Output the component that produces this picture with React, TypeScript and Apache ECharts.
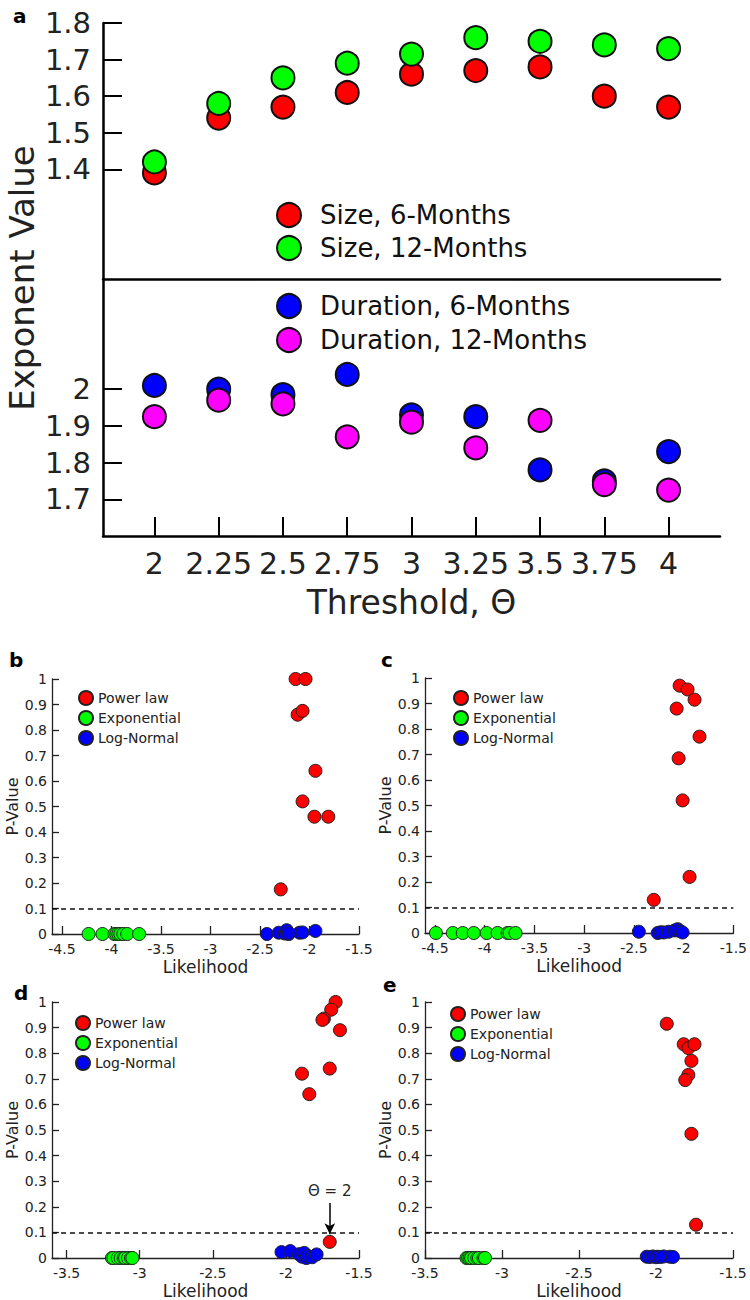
import React, { useEffect, useRef } from 'react';
import * as echarts from 'echarts';

// ---------- Panel a data ----------
const thresholds = [2, 2.25, 2.5, 2.75, 3, 3.25, 3.5, 3.75, 4];
const size6 = [1.39, 1.54, 1.57, 1.61, 1.66, 1.67, 1.68, 1.6, 1.57];
const size12 = [1.42, 1.58, 1.65, 1.69, 1.715, 1.76, 1.75, 1.74, 1.73];
const dur6 = [2.01, 2.0, 1.985, 2.04, 1.93, 1.925, 1.78, 1.75, 1.83];
const dur12 = [1.925, 1.97, 1.96, 1.87, 1.91, 1.84, 1.915, 1.74, 1.725];
const sizeTicks = [1.4, 1.5, 1.6, 1.7, 1.8];
const durTicks = [1.7, 1.8, 1.9, 2];

// ---------- Panel b ----------
const bPowX = [-2.14, -2.04, -2.12, -2.07, -1.94, -2.07, -1.95, -1.81, -2.29];
const bPowP = [1.0, 1.0, 0.86, 0.875, 0.64, 0.52, 0.46, 0.46, 0.175];
const bExpX = [-4.23, -4.09, -3.97, -3.95, -3.93, -3.91, -3.88, -3.84, -3.72];
const bExpP = [0, 0, 0, 0, 0, 0, 0, 0, 0];
const bLogX = [-2.43, -2.31, -2.25, -2.23, -2.21, -2.21, -2.1, -2.07, -1.94];
const bLogP = [0, 0.005, 0.002, 0.015, 0, 0.004, 0.005, 0.006, 0.012];
const bTicks = [-4.5, -4, -3.5, -3, -2.5, -2, -1.5];

// ---------- Panel c ----------
const cPowX = [-2.04, -1.96, -1.89, -2.07, -1.84, -2.05, -2.01, -1.94, -2.3];
const cPowP = [0.97, 0.955, 0.915, 0.88, 0.77, 0.685, 0.52, 0.22, 0.13];
const cExpX = [-4.49, -4.32, -4.22, -4.11, -3.98, -3.87, -3.77, -3.75, -3.69];
const cExpP = [0, 0, 0, 0, 0, 0, 0, 0, 0];
const cLogX = [-2.45, -2.26, -2.23, -2.2, -2.15, -2.09, -2.06, -2.04, -2.01];
const cLogP = [0.005, 0, 0.003, 0.002, 0.005, 0.01, 0.015, 0.008, 0.002];
const cTicks = [-4.5, -4, -3.5, -3, -2.5, -2, -1.5];

// ---------- Panel d ----------
const dPowX = [-1.66, -1.69, -1.74, -1.75, -1.63, -1.7, -1.89, -1.84, -1.7];
const dPowP = [1.0, 0.97, 0.935, 0.93, 0.89, 0.74, 0.72, 0.64, 0.063];
const dExpX = [-3.19, -3.18, -3.15, -3.13, -3.11, -3.1, -3.08, -3.06, -3.05];
const dExpP = [0, 0, 0, 0, 0, 0, 0, 0, 0];
const dLogX = [-2.03, -1.97, -1.91, -1.89, -1.875, -1.86, -1.85, -1.82, -1.79];
const dLogP = [0.023, 0.027, 0.015, 0.005, 0.02, 0, 0.008, 0.003, 0.014];
const dTicks = [-3.5, -3, -2.5, -2, -1.5];
const dNoteX = -1.7;
const dNoteFrom = 0.215;
const dNoteTo = 0.093;

// ---------- Panel e ----------
const ePowX = [-1.93, -1.82, -1.79, -1.75, -1.77, -1.79, -1.81, -1.77, -1.74];
const ePowP = [0.915, 0.835, 0.82, 0.835, 0.77, 0.715, 0.695, 0.485, 0.13];
const eExpX = [-3.23, -3.22, -3.21, -3.2, -3.18, -3.16, -3.15, -3.12, -3.11];
const eExpP = [0, 0, 0, 0, 0, 0, 0, 0, 0];
const eLogX = [-2.06, -2.04, -2.02, -2.0, -1.99, -1.97, -1.95, -1.91, -1.89];
const eLogP = [0.005, 0.004, 0.006, 0.003, 0.005, 0.004, 0.006, 0.005, 0.004];
const eTicks = [-3.5, -3, -2.5, -2, -1.5];

const pThreshold = 0.1;

const FONT = "'DejaVu Sans', 'Noto Sans', sans-serif";
const RED = '#ff0000';
const GREEN = '#00ff00';
const BLUE = '#0000ff';
const MAGENTA = '#ff00ff';

const zip = (xs: number[], ys: number[]) => xs.map((x, i) => [x, ys[i]]);

export default function App() {
  const ref = useRef<HTMLDivElement>(null);

  useEffect(() => {
    if (!ref.current) return;
    const chart = echarts.init(ref.current, undefined, { renderer: 'svg' });

    const bigDot = (name: string, color: string, xs: number[], ys: number[], gi: number) => ({
      type: 'scatter',
      name,
      xAxisIndex: gi,
      yAxisIndex: gi,
      symbol: 'circle',
      symbolSize: 23,
      itemStyle: { color, borderColor: '#111', borderWidth: 2, opacity: 1 },
      data: zip(xs, ys),
      z: 3,
    });

    const smallDot = (name: string, color: string, xs: number[], ys: number[], gi: number, extra: any = {}) => ({
      type: 'scatter',
      name,
      xAxisIndex: gi,
      yAxisIndex: gi,
      symbol: 'circle',
      symbolSize: 13,
      itemStyle: { color, borderColor: '#222', borderWidth: 1, opacity: 1 },
      data: zip(xs, ys),
      z: 3,
      ...extra,
    });

    const pLayouts = [
      { gi: 2, min: -4.6, max: -1.5, ticks: bTicks, nameGap: 24 },
      { gi: 3, min: -4.6, max: -1.5, ticks: cTicks, nameGap: 24 },
      { gi: 4, min: -3.6, max: -1.5, ticks: dTicks, nameGap: 24 },
      { gi: 5, min: -3.5, max: -1.5, ticks: eTicks, nameGap: 24 },
    ];

    const pData = [
      { pow: [bPowX, bPowP], exp: [bExpX, bExpP], log: [bLogX, bLogP] },
      { pow: [cPowX, cPowP], exp: [cExpX, cExpP], log: [cLogX, cLogP] },
      { pow: [dPowX, dPowP], exp: [dExpX, dExpP], log: [dLogX, dLogP] },
      { pow: [ePowX, ePowP], exp: [eExpX, eExpP], log: [eLogX, eLogP] },
    ];

    const dashLine = {
      silent: true,
      symbol: ['none', 'none'],
      label: { show: false },
      lineStyle: { color: '#111', width: 1.5, type: [5, 4] },
      data: [{ yAxis: pThreshold }],
    };

    const pSeries: any[] = [];
    pLayouts.forEach((l, i) => {
      const d = pData[i];
      const powExtra: any = {};
      if (l.gi === 4) {
        powExtra.markLine = {
          silent: true,
          symbol: ['none', 'arrow'],
          symbolSize: [8, 11],
          lineStyle: { color: '#000', width: 1.5, type: 'solid' },
          label: {
            show: true,
            position: 'start',
            formatter: 'Θ = 2',
            fontFamily: FONT,
            fontSize: 15,
            color: '#222',
            distance: 4,
          },
          data: [[{ coord: [dNoteX, dNoteFrom] }, { coord: [dNoteX, dNoteTo] }]],
        };
      }
      pSeries.push(smallDot('Power law', RED, d.pow[0], d.pow[1], l.gi, powExtra));
      pSeries.push(smallDot('Exponential', GREEN, d.exp[0], d.exp[1], l.gi, { markLine: dashLine }));
      pSeries.push(smallDot('Log-Normal', BLUE, d.log[0], d.log[1], l.gi));
    });

    const pXAxes = pLayouts.map((l) => ({
      type: 'value',
      gridIndex: l.gi,
      min: l.min,
      max: l.max,
      axisLine: { show: true, onZero: false, lineStyle: { color: '#222', width: 1.3 } },
      axisTick: { show: true, inside: true, length: 8, customValues: l.ticks, lineStyle: { color: '#222', width: 1.3 } },
      axisLabel: { show: true, customValues: l.ticks, fontFamily: FONT, fontSize: 14, color: '#222', margin: 8 },
      splitLine: { show: false },
      name: 'Likelihood',
      nameLocation: 'middle',
      nameGap: l.nameGap,
      nameTextStyle: { fontFamily: FONT, fontSize: 17, color: '#222' },
    }));

    const pYAxes = pLayouts.map((l) => ({
      type: 'value',
      gridIndex: l.gi,
      min: 0,
      max: 1,
      interval: 0.1,
      axisLine: { show: true, onZero: false, lineStyle: { color: '#222', width: 1.3 } },
      axisTick: { show: true, inside: true, length: 7, lineStyle: { color: '#222', width: 1.3 } },
      axisLabel: { fontFamily: FONT, fontSize: 14, color: '#222', margin: 5 },
      splitLine: { show: false },
      name: 'P-Value',
      nameLocation: 'middle',
      nameGap: 31,
      nameTextStyle: { fontFamily: FONT, fontSize: 16, color: '#222' },
    }));

    const pLegend = (left: number, top: number) => ({
      data: ['Power law', 'Exponential', 'Log-Normal'],
      orient: 'vertical',
      left,
      top,
      itemWidth: 14,
      itemHeight: 14,
      itemGap: 4,
      icon: 'circle',
      selectedMode: false,
      textStyle: { fontFamily: FONT, fontSize: 14, color: '#222', lineHeight: 14 },
      padding: 0,
    });

    const aLegendBase = {
      orient: 'vertical',
      itemWidth: 24,
      itemHeight: 24,
      icon: 'circle',
      selectedMode: false,
      padding: 0,
      textStyle: { fontFamily: FONT, fontSize: 26, color: '#111', lineHeight: 24, padding: [0, 0, 0, 14] },
    };

    const option: any = {
      animation: false,
      backgroundColor: '#fff',
      grid: [
        { left: 103, top: 23, width: 617, height: 256 },
        { left: 103, top: 279, width: 617, height: 257 },
        { left: 52, top: 679, width: 307, height: 255 },
        { left: 425, top: 678, width: 309, height: 255 },
        { left: 52, top: 1002, width: 307, height: 256 },
        { left: 425, top: 1002, width: 308, height: 256 },
      ],
      xAxis: [
        {
          type: 'value',
          gridIndex: 0,
          min: 1.8,
          max: 4.2,
          axisLine: { show: true, onZero: false, lineStyle: { color: '#000', width: 2.5 } },
          axisTick: { show: false },
          axisLabel: { show: false },
          splitLine: { show: false },
        },
        {
          type: 'value',
          gridIndex: 1,
          min: 1.8,
          max: 4.2,
          axisLine: { show: true, onZero: false, lineStyle: { color: '#000', width: 2.5 } },
          axisTick: { show: true, inside: true, length: 19, customValues: thresholds, lineStyle: { color: '#000', width: 2 } },
          axisLabel: { show: true, customValues: thresholds, fontFamily: FONT, fontSize: 30, color: '#222', margin: 12 },
          splitLine: { show: false },
          name: 'Threshold, Θ',
          nameLocation: 'middle',
          nameGap: 50,
          nameTextStyle: { fontFamily: FONT, fontSize: 33, color: '#222' },
        },
        ...pXAxes,
      ],
      yAxis: [
        {
          type: 'value',
          gridIndex: 0,
          min: 1.1,
          max: 1.8,
          axisLine: { show: true, onZero: false, lineStyle: { color: '#000', width: 2.5 } },
          axisTick: { show: true, inside: true, length: 19, customValues: sizeTicks, lineStyle: { color: '#000', width: 2 } },
          axisLabel: { show: true, customValues: sizeTicks, fontFamily: FONT, fontSize: 29, color: '#222', margin: 12 },
          splitLine: { show: false },
        },
        {
          type: 'value',
          gridIndex: 1,
          min: 1.6,
          max: 2.3,
          axisLine: { show: true, onZero: false, lineStyle: { color: '#000', width: 2.5 } },
          axisTick: { show: true, inside: true, length: 19, customValues: durTicks, lineStyle: { color: '#000', width: 2 } },
          axisLabel: { show: true, customValues: durTicks, fontFamily: FONT, fontSize: 29, color: '#222', margin: 12 },
          splitLine: { show: false },
        },
        ...pYAxes,
      ],
      legend: [
        { ...aLegendBase, data: ['Size, 6-Months', 'Size, 12-Months'], left: 276, top: 202, itemGap: 7 },
        { ...aLegendBase, data: ['Duration, 6-Months', 'Duration, 12-Months'], left: 276, top: 293, itemGap: 8 },
        pLegend(78, 690),
        pLegend(453, 690),
        pLegend(75, 1015),
        pLegend(450, 1006),
      ],
      graphic: [
        { type: 'text', x: 13, y: 6, style: { text: 'a', fontFamily: FONT, fontSize: 20, fontWeight: 'bold', fill: '#000' } },
        { type: 'text', x: 9, y: 650, style: { text: 'b', fontFamily: FONT, fontSize: 20, fontWeight: 'bold', fill: '#000' } },
        { type: 'text', x: 381, y: 650, style: { text: 'c', fontFamily: FONT, fontSize: 20, fontWeight: 'bold', fill: '#000' } },
        { type: 'text', x: 14, y: 983, style: { text: 'd', fontFamily: FONT, fontSize: 20, fontWeight: 'bold', fill: '#000' } },
        { type: 'text', x: 383, y: 975, style: { text: 'e', fontFamily: FONT, fontSize: 20, fontWeight: 'bold', fill: '#000' } },
        {
          type: 'text',
          x: 22,
          y: 278,
          rotation: Math.PI / 2,
          style: { text: 'Exponent Value', fontFamily: FONT, fontSize: 34, fill: '#222', align: 'center', verticalAlign: 'middle' },
        },
      ],
      series: [
        bigDot('Size, 6-Months', RED, thresholds, size6, 0),
        bigDot('Size, 12-Months', GREEN, thresholds, size12, 0),
        bigDot('Duration, 6-Months', BLUE, thresholds, dur6, 1),
        bigDot('Duration, 12-Months', MAGENTA, thresholds, dur12, 1),
        ...pSeries,
      ],
    };

    chart.setOption(option);
    return () => chart.dispose();
  }, []);

  return (
    <div
      ref={ref}
      style={{ position: 'fixed', left: 0, top: 0, width: 750, height: 1300, background: '#fff' }}
    />
  );
}
